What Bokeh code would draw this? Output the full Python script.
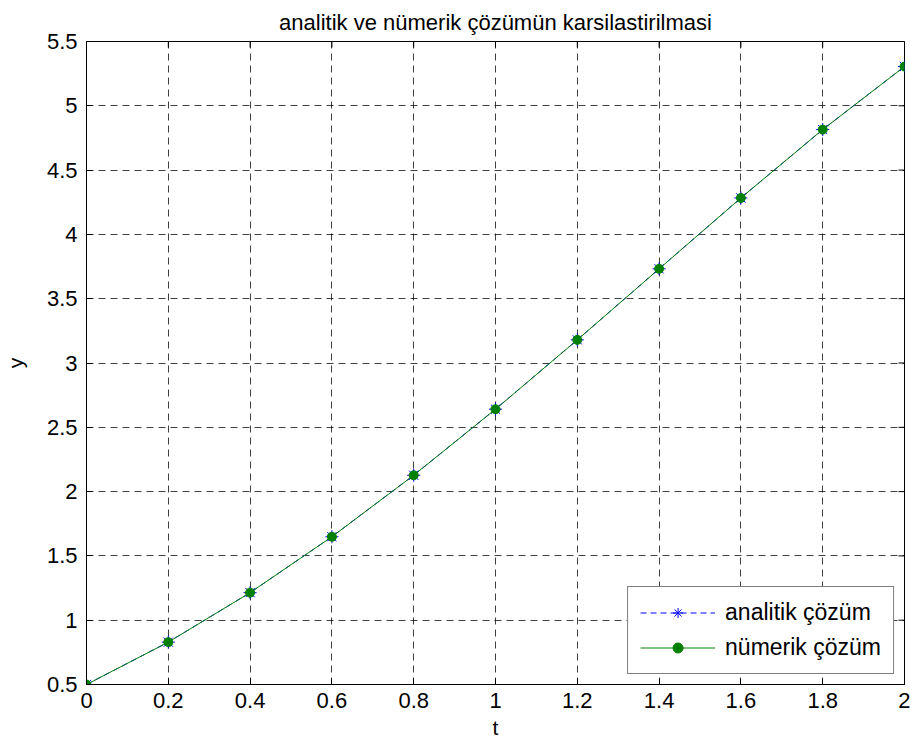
import math
from bokeh.plotting import figure
from bokeh.models import Range1d, FixedTicker, Legend, LegendItem
from bokeh.embed import file_html
from bokeh.resources import INLINE

t = [0.0, 0.2, 0.4, 0.6, 0.8, 1.0, 1.2, 1.4, 1.6, 1.8, 2.0]
y_analitik = [0.5, 0.8293, 1.2141, 1.6489, 2.1272, 2.6409, 3.1799, 3.7324, 4.2835, 4.8152, 5.3055]
y_numerik = [0.5, 0.8293, 1.2141, 1.6489, 2.1272, 2.6408, 3.1799, 3.7323, 4.2835, 4.8151, 5.3054]

x_ticks = [0, 0.2, 0.4, 0.6, 0.8, 1, 1.2, 1.4, 1.6, 1.8, 2]
x_tick_labels = ["0", "0.2", "0.4", "0.6", "0.8", "1", "1.2", "1.4", "1.6", "1.8", "2"]
y_ticks = [0.5, 1, 1.5, 2, 2.5, 3, 3.5, 4, 4.5, 5, 5.5]
y_tick_labels = ["0.5", "1", "1.5", "2", "2.5", "3", "3.5", "4", "4.5", "5", "5.5"]

title_text = "analitik ve nümerik çözümün karsilastirilmasi"
FONT = "Liberation Sans"

p = figure(width=910, height=748, output_backend="svg", toolbar_location=None,
           x_range=Range1d(x_ticks[0], x_ticks[-1]), y_range=Range1d(y_ticks[0], y_ticks[-1]),
           min_border_left=86, min_border_right=6, min_border_top=41, min_border_bottom=64)
p.background_fill_color = "white"
p.border_fill_color = "white"
p.outline_line_color = "black"
p.outline_line_width = 1

p.title.text = title_text
p.title.align = "center"
p.title.text_font = FONT
p.title.text_font_size = "22px"
p.title.text_font_style = "normal"
p.title.text_color = "black"
p.title.standoff = 13

for ax in (p.xaxis[0], p.yaxis[0]):
    ax.major_tick_in = 6
    ax.major_tick_out = 0
    ax.minor_tick_in = 0
    ax.minor_tick_out = 0
    ax.major_tick_line_color = "black"
    ax.major_label_text_font = FONT
    ax.major_label_text_font_size = "22px"
    ax.major_label_text_color = "black"
    ax.axis_label_text_font = FONT
    ax.axis_label_text_font_size = "21px"
    ax.axis_label_text_font_style = "normal"
    ax.axis_label_text_color = "black"
    ax.axis_line_color = "black"

p.xaxis[0].ticker = FixedTicker(ticks=x_ticks)
p.xaxis[0].major_label_overrides = {k: v for k, v in zip(x_ticks, x_tick_labels)}
p.xaxis[0].axis_label = "t"
p.xaxis[0].major_label_standoff = 8
p.xaxis[0].axis_label_standoff = 5
p.yaxis[0].ticker = FixedTicker(ticks=y_ticks)
p.yaxis[0].major_label_overrides = {k: v for k, v in zip(y_ticks, y_tick_labels)}
p.yaxis[0].axis_label = "y"
p.yaxis[0].major_label_standoff = 9
p.yaxis[0].axis_label_standoff = 17

p.xgrid.ticker = FixedTicker(ticks=x_ticks)
p.ygrid.ticker = FixedTicker(ticks=y_ticks)
for g in (p.xgrid[0], p.ygrid[0]):
    g.grid_line_color = "black"
    g.grid_line_alpha = 0.75
    g.grid_line_dash = "7 5"
    g.grid_line_width = 1

# inward tick marks on the top and right edges of the box (clipped to the frame)
p.scatter(x_ticks, [y_ticks[-1]] * len(x_ticks), marker="dash", angle=math.pi / 2,
          size=12, line_color="black", line_width=1)
p.scatter([x_ticks[-1]] * len(y_ticks), y_ticks, marker="dash",
          size=12, line_color="black", line_width=1)

l1 = p.line(t, y_analitik, line_color="blue", line_dash="6 4", line_width=1)
m1 = p.scatter(t, y_analitik, marker="asterisk", size=13, line_color="blue", line_width=1)
l2 = p.line(t, y_numerik, line_color="green", line_width=1)
m2 = p.scatter(t, y_numerik, marker="circle", size=9, fill_color="green", line_color="green")

legend = Legend(items=[LegendItem(label="analitik çözüm", renderers=[l1, m1]),
                       LegendItem(label="nümerik çözüm", renderers=[l2, m2])],
                location="bottom_right")
legend.label_text_font = FONT
legend.label_text_font_size = "23px"
legend.label_text_color = "black"
legend.glyph_width = 75
legend.glyph_height = 25
legend.spacing = 8
legend.padding = 12
legend.margin = 10
legend.border_line_color = "black"
legend.border_line_width = 1
legend.background_fill_alpha = 1
legend.label_standoff = 10
p.add_layout(legend, "center")

open("out.html", "w").write(file_html(p, INLINE))
